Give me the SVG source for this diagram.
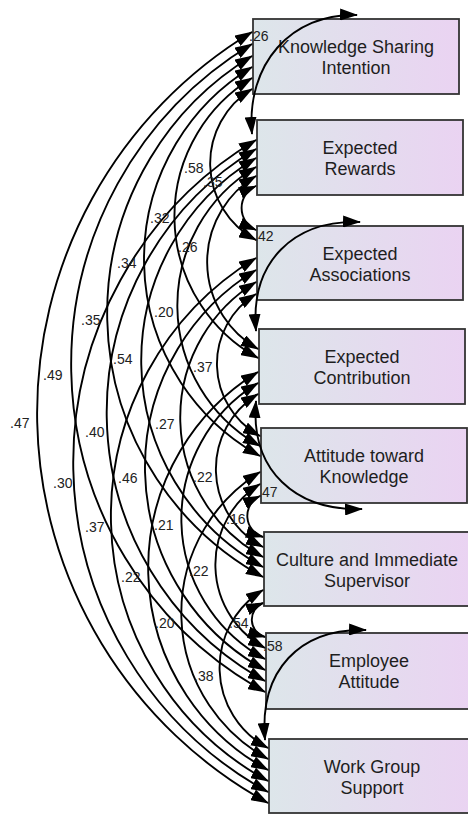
<svg xmlns="http://www.w3.org/2000/svg" width="468" height="814" viewBox="0 0 468 814">
  <style>
    .box { fill: url(#boxfill); stroke: #333; stroke-width: 1.8; }
    .name { font-family: "Liberation Sans", Arial, sans-serif; font-size: 18px; fill: #1e1e1e; text-anchor: middle; }
    .cov { fill: none; stroke: #000; stroke-width: 1.9; marker-start: url(#ah); marker-end: url(#ah); }
    .est { font-family: "Liberation Sans", Arial, sans-serif; font-size: 14px; fill: #222; }
  </style>
  <defs>
    <linearGradient id="boxfill" x1="0" y1="0" x2="1" y2="0">
      <stop offset="0" stop-color="#dde6ea"/>
      <stop offset="1" stop-color="#ead3f2"/>
    </linearGradient>
    <marker id="ah" viewBox="0 0 18 12" refX="17" refY="6" markerWidth="18" markerHeight="12" markerUnits="userSpaceOnUse" orient="auto-start-reverse">
      <path d="M0,0 L18,6 L0,12 z" fill="#000"/>
    </marker>
  </defs>

  <!-- observed variables -->
  <g id="knowledge-sharing-intention">
    <rect class="box" x="253" y="19" width="206" height="75"/>
    <text class="name" x="356" y="53">Knowledge Sharing</text>
    <text class="name" x="356" y="74">Intention</text>
  </g>
  <g id="expected-rewards">
    <rect class="box" x="257" y="120" width="206" height="75"/>
    <text class="name" x="360" y="154">Expected</text>
    <text class="name" x="360" y="175">Rewards</text>
  </g>
  <g id="expected-associations">
    <rect class="box" x="257" y="226" width="206" height="74"/>
    <text class="name" x="360" y="259.5">Expected</text>
    <text class="name" x="360" y="280.5">Associations</text>
  </g>
  <g id="expected-contribution">
    <rect class="box" x="259" y="329" width="206" height="75"/>
    <text class="name" x="362" y="363">Expected</text>
    <text class="name" x="362" y="384">Contribution</text>
  </g>
  <g id="attitude-toward-knowledge">
    <rect class="box" x="261" y="428" width="206" height="75"/>
    <text class="name" x="364" y="462">Attitude toward</text>
    <text class="name" x="364" y="483">Knowledge</text>
  </g>
  <g id="culture-immediate-supervisor">
    <rect class="box" x="264" y="532" width="206" height="74"/>
    <text class="name" x="367" y="565.5">Culture and Immediate</text>
    <text class="name" x="367" y="586.5">Supervisor</text>
  </g>
  <g id="employee-attitude">
    <rect class="box" x="266" y="633" width="206" height="76"/>
    <text class="name" x="369" y="667">Employee</text>
    <text class="name" x="369" y="688">Attitude</text>
  </g>
  <g id="work-group-support">
    <rect class="box" x="269" y="739" width="206" height="74"/>
    <text class="name" x="372" y="772.5">Work Group</text>
    <text class="name" x="372" y="793.5">Support</text>
  </g>

  <!-- two-headed covariance arcs -->
  <g id="covariances">
    <path class="cov" d="M357,15 C291,13 246,64 252,134"/>
    <path class="cov" d="M252,89 A87,87 0 0 0 256,240"/>
    <path class="cov" d="M252,78 A162,162 0 0 0 258,358"/>
    <path class="cov" d="M252,67 A225,225 0 0 0 260,456"/>
    <path class="cov" d="M252,56 A301,301 0 0 0 263,577"/>
    <path class="cov" d="M252,44 A374,374 0 0 0 265,692"/>
    <path class="cov" d="M252,32 A445,445 0 0 0 268,803"/>
    <path class="cov" d="M256,186 A24,24 0 0 0 256,230"/>
    <path class="cov" d="M256,176 A100,100 0 0 0 258,349"/>
    <path class="cov" d="M256,167 A161,161 0 0 0 260,446"/>
    <path class="cov" d="M256,158 A236,236 0 0 0 263,567"/>
    <path class="cov" d="M256,149 A307,307 0 0 0 265,681"/>
    <path class="cov" d="M256,140 A376,376 0 0 0 268,792"/>
    <path class="cov" d="M360,222 C294,220 250,261 256,331"/>
    <path class="cov" d="M256,294 A82,82 0 0 0 260,436"/>
    <path class="cov" d="M256,282 A159,159 0 0 0 263,557"/>
    <path class="cov" d="M256,270 A231,231 0 0 0 265,670"/>
    <path class="cov" d="M256,258 A302,302 0 0 0 268,781"/>
    <path class="cov" d="M256,401 C250,471 296,511 362,509"/>
    <path class="cov" d="M258,394 A88,88 0 0 0 263,547"/>
    <path class="cov" d="M258,383 A159,159 0 0 0 265,659"/>
    <path class="cov" d="M258,372 A230,230 0 0 0 268,770"/>
    <path class="cov" d="M260,496 A22,22 0 0 0 263,537"/>
    <path class="cov" d="M260,484 A95,95 0 0 0 265,648"/>
    <path class="cov" d="M260,472 A166,166 0 0 0 268,759"/>
    <path class="cov" d="M263,603 A18,18 0 0 0 265,637"/>
    <path class="cov" d="M263,590 A91,91 0 0 0 268,748"/>
    <path class="cov" d="M366,630 C300,628 259,670 265,740"/>
  </g>

  <!-- correlation estimates -->
  <g id="estimates">
    <text class="est" x="249" y="41">.26</text>
    <text class="est" x="254" y="241">.42</text>
    <text class="est" x="258" y="497">.47</text>
    <text class="est" x="263" y="651">.58</text>
    <text class="est" x="184" y="173">.58</text>
    <text class="est" x="203" y="187">.35</text>
    <text class="est" x="150" y="223">.32</text>
    <text class="est" x="178" y="252">.26</text>
    <text class="est" x="117" y="268">.34</text>
    <text class="est" x="154" y="317">.20</text>
    <text class="est" x="81" y="325">.35</text>
    <text class="est" x="113" y="364">.54</text>
    <text class="est" x="193" y="372">.37</text>
    <text class="est" x="43" y="380">.49</text>
    <text class="est" x="10" y="428">.47</text>
    <text class="est" x="155" y="429">.27</text>
    <text class="est" x="85" y="437">.40</text>
    <text class="est" x="118" y="483">.46</text>
    <text class="est" x="193" y="482">.22</text>
    <text class="est" x="53" y="488">.30</text>
    <text class="est" x="226" y="524">.16</text>
    <text class="est" x="154" y="530">.21</text>
    <text class="est" x="85" y="532">.37</text>
    <text class="est" x="121" y="582">.22</text>
    <text class="est" x="189" y="576">.22</text>
    <text class="est" x="155" y="628">.20</text>
    <text class="est" x="229" y="628">.54</text>
    <text class="est" x="194" y="681">.38</text>
  </g>
</svg>
